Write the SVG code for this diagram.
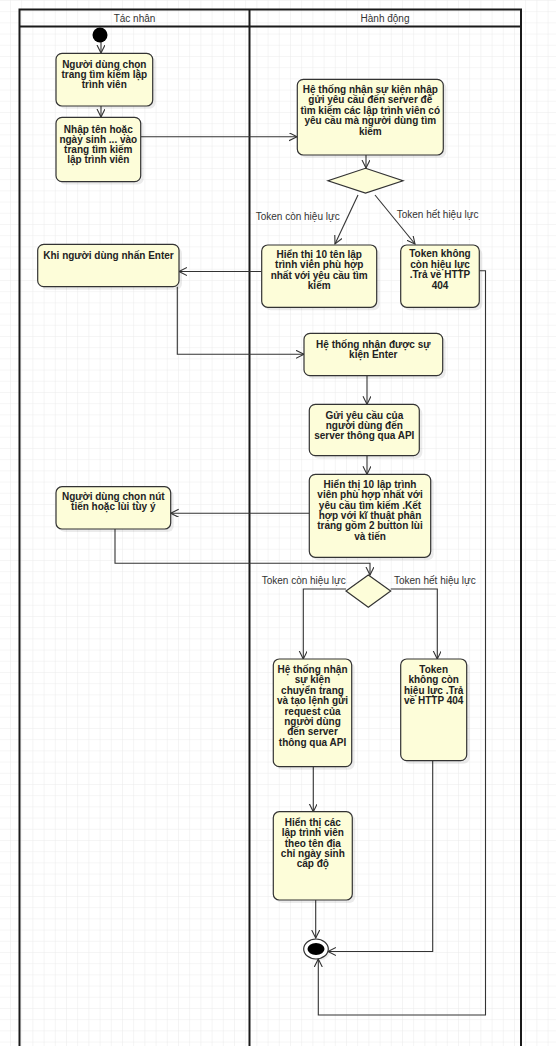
<svg xmlns="http://www.w3.org/2000/svg" width="556" height="1046" viewBox="0 0 556 1046">
<style>
.node rect.b{fill:#fdfdd9;stroke:#333;stroke-width:1.2}
.node rect.s{fill:#000;opacity:0.08}
.node text{font-family:"Liberation Sans",Arial,sans-serif;font-size:10px;font-weight:bold;fill:#222;text-anchor:middle}
.dia{fill:#fdfdd9;stroke:#333;stroke-width:1.2}
.lane{fill:none;stroke:#1a1a1a;stroke-width:2}
.hdr{font-family:"Liberation Sans",Arial,sans-serif;font-size:10px;fill:#333;text-anchor:middle}
.lbl{font-family:"Liberation Sans",Arial,sans-serif;font-size:10px;fill:#333}
.c{fill:none;stroke:#333;stroke-width:1.1;marker-end:url(#arr)}
.cn{fill:none;stroke:#333;stroke-width:1.1}
</style>
<defs>
<pattern id="grid" patternUnits="userSpaceOnUse" x="10" y="0" width="11.2" height="11.2">
<path d="M0,0 H11.2 M0,0 V11.2" fill="none" stroke="#ebebeb" stroke-width="1"/>
</pattern>
<marker id="arr" markerUnits="userSpaceOnUse" markerWidth="10" markerHeight="10" refX="8" refY="4" orient="auto">
<path d="M0,0 L8,4 L0,8" fill="none" stroke="#333" stroke-width="1.1"/>
</marker>
</defs>
<rect width="556" height="1046" fill="#fff"/>
<rect width="556" height="1046" fill="url(#grid)"/>

<g id="swimlanes">
<path class="lane" d="M19.5,1050 V9.5 H521 V1050"/>
<path class="lane" d="M19.5,26.5 H521 M249.5,9.5 V1050"/>
<text class="hdr" x="134.5" y="22">Tác nhân</text>
<text class="hdr" x="385" y="22">Hành động</text>
</g>

<g id="connectors">
<path class="c" d="M101,42 V53"/>
<path class="c" d="M101,106 V117"/>
<path class="c" d="M141,136.7 H297"/>
<path class="c" d="M366,155 V168"/>
<path class="c" d="M358,195 L335,244"/>
<path class="c" d="M375,195 L415,244"/>
<path class="c" d="M261.7,271.5 H179"/>
<path class="c" d="M177.3,286.7 V354.3 H304"/>
<path class="c" d="M367,375.7 V404.3"/>
<path class="c" d="M367,455.7 V474.3"/>
<path class="c" d="M309.3,513.3 H170.7"/>
<path class="c" d="M115,529 V563.3 H370 V575"/>
<path class="c" d="M346,589 H303.3 V659"/>
<path class="c" d="M390.7,589 H437.3 V659"/>
<path class="c" d="M313.3,766.7 V811.7"/>
<path class="c" d="M315.7,900 V938"/>
<path class="c" d="M432.7,760.7 V951.5 H328"/>
<path class="c" d="M479.3,270.7 H485.5 V1015 H318.3 V959"/>
<text class="lbl" x="255.7" y="220">Token còn hiệu lực</text>
<text class="lbl" x="396.7" y="217.5">Token hết hiệu lực</text>
<text class="lbl" x="261.7" y="583.5">Token còn hiệu lực</text>
<text class="lbl" x="394" y="583.5">Token hết hiệu lực</text>
</g>

<g id="start">
<circle cx="100" cy="35" r="7.5" fill="#000"/>
</g>

<g id="n1" class="node">
<rect class="s" x="59" y="56" width="96.7" height="52.7" rx="6"/>
<rect class="b" x="56" y="53.3" width="96.7" height="52.7" rx="6"/>
<text x="104.3" y="67.8">Người dùng chọn</text>
<text x="104.3" y="77.8">trang tìm kiếm lập</text>
<text x="104.3" y="87.8">trình viên</text>
</g>

<g id="n2" class="node">
<rect class="s" x="59" y="120" width="84.7" height="64.4" rx="6"/>
<rect class="b" x="56" y="117.3" width="84.7" height="64.4" rx="6"/>
<text x="98.3" y="132.5">Nhập tên hoặc</text>
<text x="98.3" y="142.5">ngày sinh ... vào</text>
<text x="98.3" y="152.5">trang tìm kiếm</text>
<text x="98.3" y="162.5">lập trình viên</text>
</g>

<g id="n3" class="node">
<rect class="s" x="300.3" y="82" width="146" height="75.7" rx="6"/>
<rect class="b" x="297.3" y="79.3" width="146" height="75.7" rx="6"/>
<text x="370.3" y="92.5">Hệ thống nhận sự kiện nhập</text>
<text x="370.3" y="103.1">gửi yêu cầu đến server để</text>
<text x="370.3" y="113.7">tìm kiếm các lập trình viên có</text>
<text x="370.3" y="124.3">yêu cầu mà người dùng tìm</text>
<text x="370.3" y="134.9">kiếm</text>
</g>

<g id="d1">
<polygon class="dia" points="365.5,168.3 403,180.7 365.5,193 328,180.7"/>
</g>

<g id="n4" class="node">
<rect class="s" x="264.7" y="248" width="115" height="62.3" rx="6"/>
<rect class="b" x="261.7" y="245" width="115" height="62.3" rx="6"/>
<text x="319.2" y="257.5">Hiển thị 10 tên lập</text>
<text x="319.2" y="268">trình viên phù hợp</text>
<text x="319.2" y="278.5">nhất với yêu cầu tìm</text>
<text x="319.2" y="289.3">kiếm</text>
</g>

<g id="n5" class="node">
<rect class="s" x="403.7" y="248" width="78.6" height="62.3" rx="6"/>
<rect class="b" x="400.7" y="245" width="78.6" height="62.3" rx="6"/>
<text x="440" y="257">Token không</text>
<text x="440" y="267.5">còn hiệu lực</text>
<text x="440" y="278.3">.Trả về HTTP</text>
<text x="440" y="289.3">404</text>
</g>

<g id="n6" class="node">
<rect class="s" x="40.7" y="247.3" width="141.3" height="42.4" rx="6"/>
<rect class="b" x="37.7" y="244.3" width="141.3" height="42.4" rx="6"/>
<text x="108.5" y="258.5">Khi người dùng nhấn Enter</text>
</g>

<g id="n7" class="node">
<rect class="s" x="307" y="336.3" width="138.7" height="42.4" rx="6"/>
<rect class="b" x="304" y="333.3" width="138.7" height="42.4" rx="6"/>
<text x="373.3" y="348">Hệ thống nhận được sự</text>
<text x="373.3" y="358">kiện Enter</text>
</g>

<g id="n8" class="node">
<rect class="s" x="312.3" y="407.3" width="110" height="51.4" rx="6"/>
<rect class="b" x="309.3" y="404.3" width="110" height="51.4" rx="6"/>
<text x="364.3" y="418.5">Gửi yêu cầu của</text>
<text x="364.3" y="428.5">người dùng đến</text>
<text x="364.3" y="438.5">server thông qua API</text>
</g>

<g id="n9" class="node">
<rect class="s" x="312.3" y="477.3" width="121.4" height="83" rx="6"/>
<rect class="b" x="309.3" y="474.3" width="121.4" height="83" rx="6"/>
<text x="370" y="488">Hiển thị 10 lập trình</text>
<text x="370" y="498.3">viên phù hợp nhất với</text>
<text x="370" y="508.6">yêu cầu tìm kiếm .Kết</text>
<text x="370" y="518.9">hợp với kĩ thuật phân</text>
<text x="370" y="529.2">trang gồm 2 button lùi</text>
<text x="370" y="539.5">và tiến</text>
</g>

<g id="n10" class="node">
<rect class="s" x="59" y="489.7" width="114.7" height="42.3" rx="6"/>
<rect class="b" x="56" y="486.7" width="114.7" height="42.3" rx="6"/>
<text x="113.3" y="500">Người dùng chọn nút</text>
<text x="113.3" y="510">tiến hoặc lùi tùy ý</text>
</g>

<g id="d2">
<polygon class="dia" points="368.3,575 390.7,591 368.3,607.3 346,591"/>
</g>

<g id="n11" class="node">
<rect class="s" x="276.3" y="662" width="78.4" height="107.7" rx="6"/>
<rect class="b" x="273.3" y="659" width="78.4" height="107.7" rx="6"/>
<text x="312.5" y="673">Hệ thống nhận</text>
<text x="312.5" y="683.4">sự kiện</text>
<text x="312.5" y="693.8">chuyển trang</text>
<text x="312.5" y="704.2">và tạo lệnh gửi</text>
<text x="312.5" y="714.6">request của</text>
<text x="312.5" y="725">người dùng</text>
<text x="312.5" y="735.4">đến server</text>
<text x="312.5" y="745.8">thông qua API</text>
</g>

<g id="n12" class="node">
<rect class="s" x="403.7" y="662" width="66" height="101.7" rx="6"/>
<rect class="b" x="400.7" y="659" width="66" height="101.7" rx="6"/>
<text x="433.7" y="673">Token</text>
<text x="433.7" y="683.4">không còn</text>
<text x="433.7" y="693.8">hiệu lực .Trả</text>
<text x="433.7" y="704.2">về HTTP 404</text>
</g>

<g id="n13" class="node">
<rect class="s" x="276.3" y="814.7" width="79" height="88.3" rx="6"/>
<rect class="b" x="273.3" y="811.7" width="79" height="88.3" rx="6"/>
<text x="312.8" y="826">Hiển thị các</text>
<text x="312.8" y="836.3">lập trình viên</text>
<text x="312.8" y="846.6">theo tên địa</text>
<text x="312.8" y="856.9">chỉ ngày sinh</text>
<text x="312.8" y="867.2">cấp độ</text>
</g>

<g id="final">
<ellipse cx="318" cy="951" rx="12.3" ry="10" fill="#000" opacity="0.06"/>
<ellipse cx="316" cy="949" rx="12.3" ry="10" fill="#fff" stroke="#333" stroke-width="1.2"/>
<ellipse cx="316" cy="949" rx="8.5" ry="6" fill="#000"/>
</g>
</svg>
